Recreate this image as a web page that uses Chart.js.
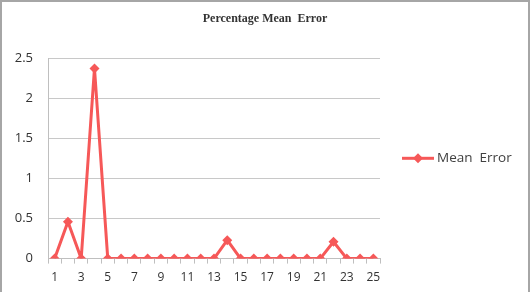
<!DOCTYPE html>
<html>
<head>
<meta charset="utf-8">
<script src="https://cdn.jsdelivr.net/npm/chart.js@4/dist/chart.umd.min.js"></script>
<style>
  html, body { margin: 0; padding: 0; background: #fff; }
  #wrap { position: absolute; left: 0; top: 0; width: 526px; height: 290px; border: 2px solid #a6a6a6; border-bottom: none; }
  canvas { display: block; }
</style>
</head>
<body>
<div id="wrap"><canvas id="chart" width="526" height="290"></canvas></div>
<script>
const runs = ['1','2','3','4','5','6','7','8','9','10','11','12','13','14','15','16','17','18','19','20','21','22','23','24','25'];
const meanError = [0, 0.46, 0, 2.37, 0, 0, 0, 0, 0, 0, 0, 0, 0, 0.23, 0, 0, 0, 0, 0, 0, 0, 0.21, 0, 0, 0];
const yTicks = [0, 0.5, 1, 1.5, 2, 2.5];
const chartTitle = 'Percentage Mean  Error';

const lineColor = 'rgb(246, 88, 88)';

// title over the whole canvas + legend to the right of the plot (line + diamond + label)
const decorations = {
  id: 'decorations',
  afterDraw(chart) {
    const c = chart.ctx;
    const area = chart.chartArea;
    const ds = chart.data.datasets[0];
    c.save();
    c.fillStyle = '#333';
    c.font = 'bold 12px "Liberation Serif"';
    c.textAlign = 'center';
    c.textBaseline = 'middle';
    c.fillText(chartTitle, chart.width / 2, 17);

    const y = (area.top + area.bottom) / 2;
    const x0 = area.right + 22;
    c.strokeStyle = ds.borderColor;
    c.fillStyle = ds.borderColor;
    c.lineWidth = 3;
    c.beginPath();
    c.moveTo(x0, y);
    c.lineTo(x0 + 32, y);
    c.stroke();
    c.beginPath();
    c.moveTo(x0 + 16, y - 5);
    c.lineTo(x0 + 21, y);
    c.lineTo(x0 + 16, y + 5);
    c.lineTo(x0 + 11, y);
    c.closePath();
    c.fill();
    c.fillStyle = '#404040';
    c.font = '13.5px "Open Sans"';
    c.textAlign = 'left';
    c.fillText(ds.label, x0 + 35, y);
    c.restore();
  }
};

const ctx = document.getElementById('chart').getContext('2d');
new Chart(ctx, {
  type: 'line',
  data: {
    labels: runs,
    datasets: [{
      label: 'Mean  Error',
      data: meanError,
      borderColor: lineColor,
      backgroundColor: lineColor,
      borderWidth: 3,
      pointStyle: 'rectRot',
      pointRadius: 5,
      pointBorderWidth: 0,
      tension: 0
    }]
  },
  options: {
    responsive: false,
    animation: false,
    layout: { padding: { left: 0, right: 148, top: 56, bottom: 0 } },
    scales: {
      x: {
        offset: true,
        grid: { display: true, drawOnChartArea: false, offset: true, color: '#bfbfbf', tickLength: 5 },
        border: { color: '#bfbfbf' },
        ticks: {
          autoSkip: false,
          maxRotation: 0,
          color: '#333',
          font: { family: 'Open Sans', size: 12 },
          padding: 7,
          callback: (v, i) => (i % 2 === 0 ? runs[i] : '')
        }
      },
      y: {
        min: 0,
        max: 2.5,
        afterBuildTicks: (axis) => { axis.ticks = yTicks.map(v => ({ value: v })); },
        afterFit: (axis) => { axis.width = 46; },
        grid: { color: '#c8c8c8', drawTicks: false },
        border: { color: '#bfbfbf' },
        ticks: {
          color: '#333',
          font: { family: 'Open Sans', size: 13 },
          padding: 15,
          callback: (v) => String(v)
        }
      }
    },
    plugins: {
      title: { display: false },
      legend: { display: false },
      tooltip: { enabled: false }
    }
  },
  plugins: [decorations]
});
</script>
</body>
</html>
